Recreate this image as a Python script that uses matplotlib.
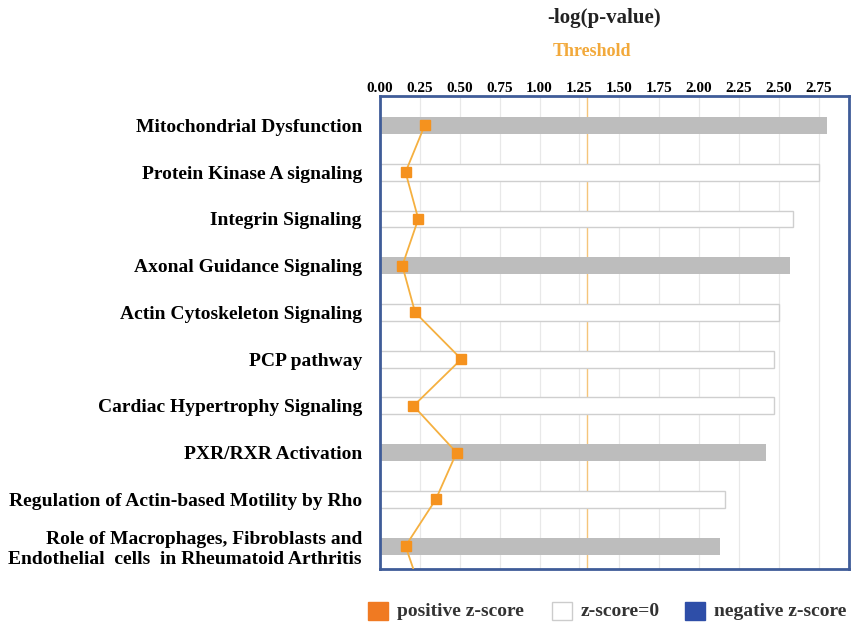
import numpy as np
import matplotlib.pyplot as plt
from matplotlib.patches import Rectangle

# Pathways, top to bottom
pathways = [
    "Mitochondrial Dysfunction",
    "Protein Kinase A signaling",
    "Integrin Signaling",
    "Axonal Guidance Signaling",
    "Actin Cytoskeleton Signaling",
    "PCP pathway",
    "Cardiac Hypertrophy Signaling",
    "PXR/RXR Activation",
    "Regulation of Actin-based Motility by Rho",
    "Role of Macrophages, Fibroblasts and\nEndothelial  cells  in Rheumatoid Arthritis",
]
neg_log_p = [2.80, 2.75, 2.59, 2.57, 2.50, 2.47, 2.47, 2.42, 2.16, 2.13]
# "gray" = no activity pattern, "zero" = z-score 0
bar_kind = ["gray", "zero", "zero", "gray", "zero", "zero", "zero", "gray", "zero", "gray"]
# ratio line; the last value belongs to the next pathway below the visible range
ratio = [0.28, 0.16, 0.24, 0.14, 0.22, 0.51, 0.21, 0.48, 0.35, 0.16, 0.26]
threshold = 1.3
xticks = [0.00, 0.25, 0.50, 0.75, 1.00, 1.25, 1.50, 1.75, 2.00, 2.25, 2.50, 2.75]

legend_items = [("positive z-score", "#F07A22", "#F07A22"),
                ("z-score=0", "white", "#CCCCCC"),
                ("negative z-score", "#2E4EA8", "#2E4EA8")]

plt.rcParams["font.family"] = ["Liberation Serif", "DejaVu Serif"]
plt.rcParams["font.weight"] = "bold"

W, H = 853, 627
fig = plt.figure(figsize=(W / 100, H / 100), dpi=100)
fig.patch.set_facecolor("white")

L, R, T, B = 380, 849, 96, 569
ax = fig.add_axes([L / W, 1 - B / H, (R - L) / W, (B - T) / H])

y = np.arange(len(pathways))
x0 = 0.0
for yi, val, kind in zip(y, neg_log_p, bar_kind):
    if kind == "gray":
        ax.barh(yi, val - x0, left=x0, height=0.36, color="#BDBDBD",
                edgecolor="none", zorder=2)
    else:
        ax.barh(yi, val - x0, left=x0, height=0.36, color="white",
                edgecolor="#CFCFCF", linewidth=1.0, zorder=2)

ax.axvline(threshold, color="#F5C57A", linewidth=1.0, zorder=1)

ry = np.arange(len(ratio))
ax.plot(ratio, ry, color="#F5B040", linewidth=1.3, zorder=3)
ax.plot(ratio, ry, linestyle="none", marker="s", markersize=7,
        color="#F5921E", markeredgecolor="#F5921E", zorder=4)

ax.set_xlim(0, 2.94)
ax.set_ylim(len(pathways) - 1 + 0.49, -0.63)
ax.set_xticks(xticks)
ax.set_xticklabels([f"{t:.2f}" for t in xticks])
ax.xaxis.tick_top()
ax.tick_params(axis="x", length=0, pad=1, labelsize=11)
ax.set_yticks(y)
ax.set_yticklabels(pathways, fontsize=14, fontweight="bold", ha="right",
                   multialignment="right")
ax.tick_params(axis="y", length=0, pad=13)
# the two-line label sits a little above its bar
ax.get_yticklabels()[-1].set_y(len(pathways) - 1 - 0.13)
ax.grid(axis="x", color="#E8E8E8", linewidth=0.9, zorder=0)
ax.set_axisbelow(True)
for s in ax.spines.values():
    s.set_color("#3F5C98")
    s.set_linewidth(2)

fig.text(604 / W, 1 - 18 / H, "-log(p-value)", ha="center", va="center",
         fontsize=15, fontweight="bold", color="#222222")
fig.text(592 / W, 1 - 52 / H, "Threshold", ha="center", va="center",
         fontsize=13, fontweight="bold", color="#F2A93B")

# Legend row under the plot
lx = [368, 552, 685]
for (label, face, edge), x in zip(legend_items, lx):
    fig.patches.append(Rectangle((x / W, 1 - 620 / H), 20 / W, 18 / H,
                                 transform=fig.transFigure, facecolor=face,
                                 edgecolor=edge, linewidth=1))
    fig.text((x + 29) / W, 1 - 611 / H, label, ha="left", va="center",
             fontsize=14, fontweight="bold", color="#333333")

fig.savefig("out.png", dpi=100, facecolor="white")
